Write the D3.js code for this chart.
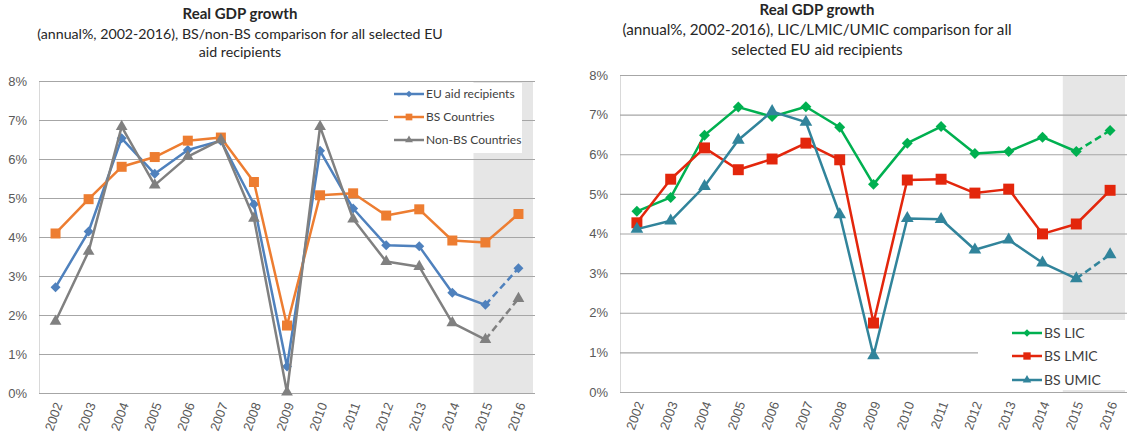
<!DOCTYPE html>
<html lang="en">
<head>
<meta charset="UTF-8">
<title>Real GDP growth</title>
<script src="https://cdn.jsdelivr.net/npm/d3@7"></script>
<style>
    body { margin: 0; background: #fff; }
    svg { display: block; font-family: Lato, "Open Sans", sans-serif; }
    .tick text { fill: #595959; font-size: 13px; }
</style>
</head>
<body>
<svg id="chart" width="1127" height="439"></svg>
<script>
    // data
    var years = ["2002", "2003", "2004", "2005", "2006", "2007", "2008", "2009",
        "2010", "2011", "2012", "2013", "2014", "2015", "2016"];
    var yTicks = [0, 1, 2, 3, 4, 5, 6, 7, 8];

    var euAid = [2.71, 4.14, 6.53, 5.62, 6.23, 6.47, 4.84, 0.68, 6.21, 4.73, 3.79, 3.76, 2.57, 2.26, 3.20];
    var bsCountries = [4.09, 4.97, 5.80, 6.05, 6.47, 6.55, 5.41, 1.73, 5.07, 5.12, 4.55, 4.71, 3.91, 3.86, 4.59];
    var nonBs = [1.84, 3.63, 6.83, 5.33, 6.06, 6.49, 4.48, 0.02, 6.83, 4.46, 3.37, 3.24, 1.80, 1.37, 2.42];

    var bsLic = [4.56, 4.91, 6.48, 7.19, 6.95, 7.20, 6.68, 5.24, 6.28, 6.70, 6.02, 6.07, 6.43, 6.07, 6.60];
    var bsLmic = [4.27, 5.37, 6.16, 5.61, 5.88, 6.28, 5.86, 1.74, 5.35, 5.37, 5.02, 5.12, 3.99, 4.24, 5.09];
    var bsUmic = [4.11, 4.32, 5.19, 6.36, 7.08, 6.81, 4.48, 0.92, 4.38, 4.36, 3.59, 3.84, 3.26, 2.86, 3.47];

    var svg = d3.select("#chart");

    var diamond = d3.symbol().type(d3.symbolSquare);
    var square = d3.symbol().type(d3.symbolSquare);
    var triangle = d3.symbol().type(d3.symbolTriangle);

    function drawChart(cfg) {
        var g = svg.append("g");
        var x = d3.scaleBand().domain(years).range([cfg.left, cfg.right]);
        var y = d3.scaleLinear().domain([0, 8]).range([cfg.bottom, cfg.top]);
        var bw = x.bandwidth();
        var cx = function (d) { return x(d) + bw / 2; };

        // titles
        cfg.title.forEach(function (t, i) {
            g.append("text")
                .attr("x", cfg.titleX)
                .attr("y", cfg.titleY[i])
                .attr("text-anchor", "middle")
                .attr("font-size", i == 0 ? 15 : cfg.subSize)
                .attr("font-weight", i == 0 ? "bold" : "normal")
                .attr("fill", "#262626")
                .text(t);
        });

        // forecast shade
        g.append("rect")
            .attr("x", cx("2015") - cfg.shadeOffset * bw)
            .attr("y", cfg.top)
            .attr("width", cfg.right - (cx("2015") - cfg.shadeOffset * bw) - 2)
            .attr("height", cfg.bottom - cfg.top)
            .attr("fill", "#e6e6e6");

        // gridlines + y axis
        var yAxis = d3.axisLeft(y).tickValues(yTicks)
            .tickFormat(function (d) { return d + "%"; })
            .tickSize(-(cfg.right - cfg.left)).tickPadding(12);
        var ga = g.append("g").attr("transform", "translate(" + cfg.left + ",0)").call(yAxis);
        ga.select(".domain").attr("stroke", "#d9d9d9");
        ga.selectAll(".tick line").attr("stroke", "#a6a6a6").attr("stroke-width", 1.2);

        // x axis labels
        var xAxis = d3.axisBottom(x).tickSize(0).tickPadding(0);
        var gx = g.append("g").attr("transform", "translate(0," + cfg.bottom + ")").call(xAxis);
        gx.select(".domain").remove();
        gx.selectAll(".tick text")
            .attr("text-anchor", "end")
            .attr("dy", "0.35em")
            .attr("y", 0)
            .attr("transform", "translate(3,10) rotate(-70)");

        // legend background
        g.append("rect")
            .attr("x", cfg.legend.x)
            .attr("y", cfg.legend.y)
            .attr("width", cfg.legend.w)
            .attr("height", cfg.legend.h)
            .attr("fill", "#fff");

        var line = d3.line()
            .x(function (d) { return cx(d.year); })
            .y(function (d) { return y(d.v); });

        cfg.series.forEach(function (s, si) {
            var pts = years.map(function (yr, i) { return { year: yr, v: s.values[i] }; });
            var solid = s.dashed ? pts.slice(0, pts.length - 1) : pts;
            g.append("path").datum(solid)
                .attr("fill", "none").attr("stroke", s.color)
                .attr("stroke-width", 2.5).attr("stroke-linejoin", "round")
                .attr("d", line);
            if (s.dashed) {
                g.append("path").datum(pts.slice(pts.length - 2))
                    .attr("fill", "none").attr("stroke", s.color)
                    .attr("stroke-width", 2.5).attr("stroke-dasharray", "7,4")
                    .attr("d", line);
            }
            g.selectAll(".m" + si).data(pts).enter().append("path")
                .attr("class", "m" + si)
                .attr("d", s.shape.size(s.size))
                .attr("fill", s.color)
                .attr("transform", function (d) {
                    return "translate(" + cx(d.year) + "," + y(d.v) + ")" + (s.rot ? " rotate(45)" : "");
                });

            // legend entry
            var ly = cfg.legend.itemY[si], lx = cfg.legend.lineX;
            g.append("line")
                .attr("x1", lx).attr("x2", lx + 30).attr("y1", ly).attr("y2", ly)
                .attr("stroke", s.color).attr("stroke-width", 2.5);
            g.append("path")
                .attr("d", s.shape.size(s.size * 0.45))
                .attr("fill", s.color)
                .attr("transform", "translate(" + (lx + 15) + "," + ly + ")" + (s.rot ? " rotate(45)" : ""));
            g.append("text")
                .attr("x", lx + 32).attr("y", ly).attr("dy", "0.35em")
                .attr("font-size", cfg.legend.fontSize).attr("fill", "#404040")
                .text(s.name);
        });
    }

    drawChart({
        left: 39, right: 535, top: 81, bottom: 393,
        titleX: 240, titleY: [19, 39, 57], subSize: 14.2,
        title: ["Real GDP growth", "(annual%, 2002-2016), BS/non-BS comparison for all selected EU", "aid recipients"],
        shadeOffset: 0.36,
        legend: { x: 388, y: 83, w: 134, h: 70, itemY: [94, 117, 140], lineX: 394, fontSize: 12 },
        series: [
            { name: "EU aid recipients", values: euAid, color: "#4f81bd", shape: diamond, size: 50, rot: true, dashed: true },
            { name: "BS Countries", values: bsCountries, color: "#ed7d31", shape: square, size: 100, dashed: false },
            { name: "Non-BS Countries", values: nonBs, color: "#808080", shape: triangle, size: 60, dashed: true }
        ]
    });

    drawChart({
        left: 620, right: 1127, top: 75, bottom: 392,
        titleX: 817, titleY: [15, 35, 55], subSize: 15.2,
        title: ["Real GDP growth", "(annual%, 2002-2016), LIC/LMIC/UMIC comparison for all", "selected EU aid recipients"],
        shadeOffset: 0.4,
        legend: { x: 978, y: 320, w: 149, h: 70, itemY: [333, 356, 380], lineX: 1012, fontSize: 14 },
        series: [
            { name: "BS LIC", values: bsLic, color: "#00b050", shape: diamond, size: 60, rot: true, dashed: true },
            { name: "BS LMIC", values: bsLmic, color: "#e3260c", shape: square, size: 120, dashed: false },
            { name: "BS UMIC", values: bsUmic, color: "#31849b", shape: triangle, size: 70, dashed: true }
        ]
    });
</script>
</body>
</html>
